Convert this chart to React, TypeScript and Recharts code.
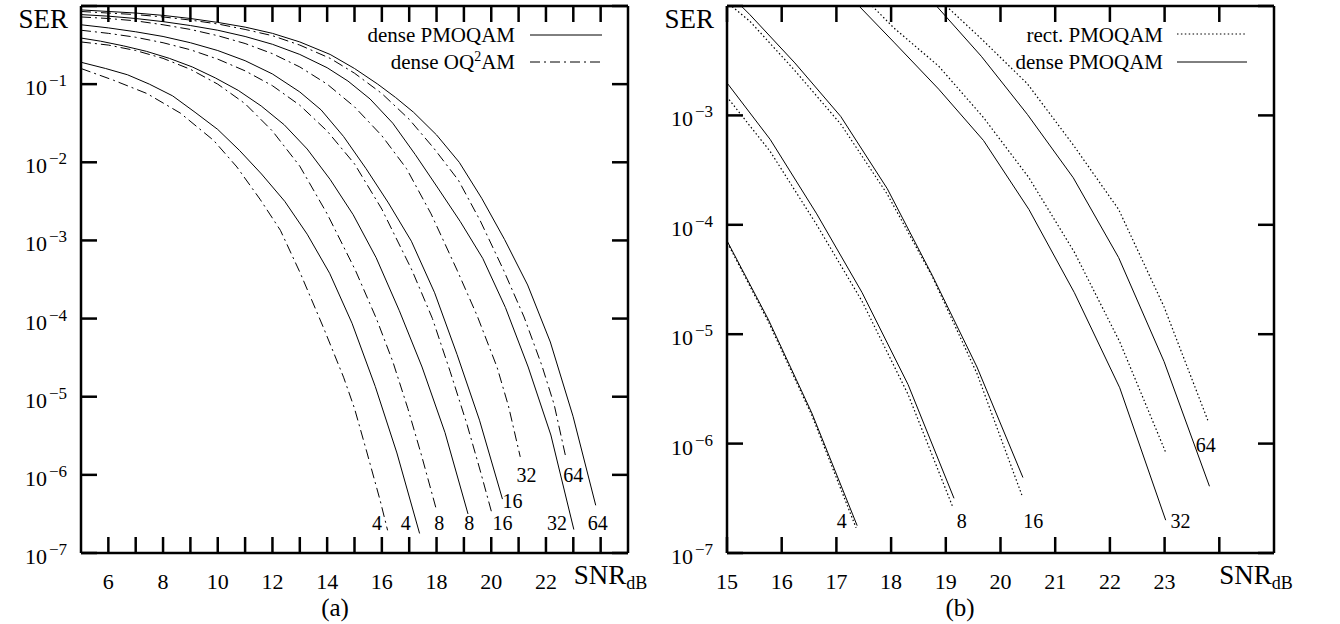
import React from "react";
import { LineChart, Line, XAxis, YAxis, ReferenceDot, Legend } from "recharts";

// SNR (dB) and log10(SER)

// dense PMOQAM (solid), drawn in both panels
const DPM4_SNR = [5, 5.9, 6.7, 7.5, 8.35, 9.17, 10.0, 10.8, 11.6, 12.45, 13.27, 14.09, 14.91, 15.76, 16.55, 17.38];
const DPM4_LOG = [-0.72, -0.8, -0.88, -1.0, -1.15, -1.36, -1.58, -1.85, -2.15, -2.5, -2.92, -3.42, -4.06, -4.87, -5.72, -6.75];
const DPM8_SNR = [5, 5.71, 6.55, 7.39, 8.23, 9.07, 9.91, 10.75, 11.59, 12.43, 13.27, 14.11, 14.95, 15.79, 16.64, 17.47, 18.31, 19.15];
const DPM8_LOG = [-0.41, -0.45, -0.51, -0.58, -0.67, -0.78, -0.92, -1.08, -1.28, -1.52, -1.83, -2.22, -2.67, -3.22, -3.9, -4.62, -5.46, -6.5];
const DPM16_SNR = [5, 6, 7, 8, 9, 10, 11, 12, 13, 13.78, 14.6, 15.42, 16.24, 17.08, 17.93, 18.75, 19.57, 20.41];
const DPM16_LOG = [-0.24, -0.28, -0.33, -0.39, -0.47, -0.57, -0.7, -0.87, -1.1, -1.33, -1.67, -2.08, -2.52, -3.01, -3.67, -4.46, -5.3, -6.31];
const DPM32_SNR = [5, 6, 7, 8, 9, 10, 11, 12, 13, 14, 14.76, 15.57, 16.4, 17.22, 18.05, 18.87, 19.69, 20.52, 21.35, 22.18, 23.02];
const DPM32_LOG = [-0.11, -0.13, -0.16, -0.2, -0.25, -0.31, -0.39, -0.49, -0.62, -0.79, -0.96, -1.19, -1.5, -1.9, -2.33, -2.76, -3.23, -3.86, -4.62, -5.49, -6.7];
const DPM64_SNR = [5, 6, 7, 8, 9, 10, 11, 12, 13, 14.11, 15.0, 15.85, 16.5, 17.16, 18.0, 18.83, 19.65, 20.49, 21.33, 22.16, 22.99, 23.82];
const DPM64_LOG = [-0.05, -0.07, -0.09, -0.12, -0.16, -0.21, -0.27, -0.35, -0.46, -0.62, -0.8, -1.0, -1.17, -1.36, -1.65, -2.0, -2.46, -2.99, -3.57, -4.3, -5.25, -6.39];

// dense OQ2AM (dash-dot), panel (a)
const DOQ4_SNR = [5, 6.19, 7.41, 8.63, 9.85, 10.7, 11.56, 12.29, 13.02, 13.87, 14.6, 15.0, 15.46, 15.94, 16.21];
const DOQ4_LOG = [-0.8, -0.95, -1.12, -1.37, -1.72, -2.06, -2.48, -2.87, -3.42, -4.12, -4.75, -5.15, -5.72, -6.33, -6.71];
const DOQ8_SNR = [5, 6, 7, 8, 9, 10, 11, 12, 13, 14, 15.03, 15.8, 16.4, 16.95, 17.45, 17.99];
const DOQ8_LOG = [-0.46, -0.5, -0.57, -0.67, -0.81, -1.0, -1.25, -1.6, -2.05, -2.66, -3.38, -4.0, -4.55, -5.15, -5.75, -6.44];
const DOQ16_SNR = [5, 6, 7, 8, 9, 10, 11, 12, 13, 14, 15, 16, 17.1, 17.85, 18.5, 19.11, 19.6, 20.03];
const DOQ16_LOG = [-0.31, -0.35, -0.4, -0.47, -0.56, -0.68, -0.83, -1.02, -1.27, -1.6, -2.02, -2.6, -3.38, -4.0, -4.68, -5.35, -5.95, -6.5];
const DOQ32_SNR = [5, 6, 7, 8, 9, 10, 11, 12, 13, 14, 15, 16, 16.9, 17.8, 18.75, 19.48, 20.21, 20.63, 21.06];
const DOQ32_LOG = [-0.14, -0.16, -0.19, -0.24, -0.3, -0.38, -0.48, -0.61, -0.78, -1.0, -1.29, -1.66, -2.08, -2.66, -3.38, -3.96, -4.62, -5.12, -5.77];
const DOQ64_SNR = [5, 6, 7, 8, 9, 10, 11, 12, 13, 14.11, 15.0, 16.0, 17.0, 17.9, 18.8, 19.6, 20.45, 21.2, 21.85, 22.3, 22.71];
const DOQ64_LOG = [-0.07, -0.09, -0.11, -0.14, -0.18, -0.23, -0.3, -0.38, -0.5, -0.67, -0.86, -1.12, -1.45, -1.82, -2.23, -2.75, -3.38, -3.98, -4.6, -5.1, -5.75];

// rect. PMOQAM (dotted), panel (b)
const RPM4_SNR = [14.91, 15.76, 16.55, 17.36];
const RPM4_LOG = [-4.07, -4.89, -5.74, -6.77];
const RPM8_SNR = [14.95, 15.79, 16.64, 17.47, 18.31, 19.12];
const RPM8_LOG = [-2.8, -3.33, -4.0, -4.7, -5.55, -6.57];
const RPM16_SNR = [14.6, 15.42, 16.24, 17.08, 17.93, 18.75, 19.57, 20.39];
const RPM16_LOG = [-1.8, -2.14, -2.59, -3.08, -3.72, -4.47, -5.36, -6.47];
const RPM32_SNR = [16.4, 17.22, 18.05, 18.87, 19.69, 20.52, 21.35, 22.18, 23.02];
const RPM32_LOG = [-1.42, -1.78, -2.2, -2.55, -3.02, -3.57, -4.25, -5.07, -6.08];
const RPM64_SNR = [18.2, 19.05, 19.65, 20.49, 21.33, 22.16, 22.99, 23.8];
const RPM64_LOG = [-1.65, -2.02, -2.3, -2.71, -3.27, -3.86, -4.75, -5.8];

// axes
const A_X_TICKS = [6, 7, 8, 9, 10, 11, 12, 13, 14, 15, 16, 17, 18, 19, 20, 21, 22, 23, 24];
const A_X_LABELS = [6, 8, 10, 12, 14, 16, 18, 20, 22];
const A_Y_EXP = [-7, -6, -5, -4, -3, -2, -1, 0];
const B_X_TICKS = [15, 16, 17, 18, 19, 20, 21, 22, 23, 24];
const B_X_LABELS = [15, 16, 17, 18, 19, 20, 21, 22, 23];
const B_Y_EXP = [-7, -6, -5, -4, -3, -2];

// constellation size tags: text, SNR, log10(SER) where they sit
const A_TAGS = [
  { text: "4", snr: 15.82, lg: -6.62 },
  { text: "4", snr: 16.87, lg: -6.62 },
  { text: "8", snr: 18.1, lg: -6.62 },
  { text: "8", snr: 19.2, lg: -6.62 },
  { text: "16", snr: 20.41, lg: -6.62 },
  { text: "32", snr: 22.4, lg: -6.62 },
  { text: "64", snr: 23.89, lg: -6.62 },
  { text: "16", snr: 20.78, lg: -6.33 },
  { text: "32", snr: 21.29, lg: -6.0 },
  { text: "64", snr: 23.0, lg: -6.0 },
];
const B_TAGS = [
  { text: "4", snr: 17.1, lg: -6.71 },
  { text: "8", snr: 19.29, lg: -6.71 },
  { text: "16", snr: 20.6, lg: -6.71 },
  { text: "32", snr: 23.29, lg: -6.71 },
  { text: "64", snr: 23.75, lg: -6.01 },
];

const SERIF = "'Liberation Serif', 'Times New Roman', serif";
const DASH_DOT = "10 4 2 4";
const DOTTED = "1.5 2.4";
const H = 624;
const AXIS = { stroke: "#000", strokeWidth: 2.5 };

const toPoints = (snr: number[], lg: number[]) =>
  snr.map((x, i) => ({ snr: x, ser: Math.pow(10, lg[i]) }));

const LeftTick = ({ x, y, payload, topExp }: any) => {
  const e = Math.round(Math.log10(payload.value));
  return (
    <g>
      <line x1={x} x2={x + 16} y1={y} y2={y} stroke="#000" strokeWidth={2.5} />
      {e === topExp ? (
        <text x={x - 13} y={y + 22} textAnchor="end" fontFamily={SERIF} fontSize={27} fill="#000">
          SER
        </text>
      ) : (
        <text x={x - 14} y={y + 11} textAnchor="end" fontFamily={SERIF} fill="#000">
          <tspan fontSize={22}>10</tspan>
          <tspan fontSize={17} dx={2} dy={-9}>
            {"\u2212" + -e}
          </tspan>
        </text>
      )}
    </g>
  );
};

const RightTick = ({ x, y }: any) => (
  <line x1={x} x2={x - 16} y1={y} y2={y} stroke="#000" strokeWidth={2.5} />
);

const TopTick = ({ x, y }: any) => (
  <line x1={x} x2={x} y1={y} y2={y + 16} stroke="#000" strokeWidth={2.5} />
);

const BottomTick = ({ x, y, payload, labels, shift }: any) => {
  const v = payload.value;
  return (
    <g>
      <line x1={x} x2={x} y1={y} y2={y - 16} stroke="#000" strokeWidth={2.5} />
      {v === 24 ? (
        <text x={x + shift} y={y + 31} fontFamily={SERIF} fill="#000">
          <tspan fontSize={27}>SNR</tspan>
          <tspan fontSize={18} dy={5}>dB</tspan>
        </text>
      ) : labels.includes(v) ? (
        <text x={x} y={y + 36} textAnchor="middle" fontFamily={SERIF} fontSize={22} fill="#000">
          {v}
        </text>
      ) : null}
    </g>
  );
};

interface Curve {
  key: string;
  snr: number[];
  lg: number[];
  dash?: string;
}

const SOLIDS: Curve[] = [
  { key: "dpm4", snr: DPM4_SNR, lg: DPM4_LOG },
  { key: "dpm8", snr: DPM8_SNR, lg: DPM8_LOG },
  { key: "dpm16", snr: DPM16_SNR, lg: DPM16_LOG },
  { key: "dpm32", snr: DPM32_SNR, lg: DPM32_LOG },
  { key: "dpm64", snr: DPM64_SNR, lg: DPM64_LOG },
];

const A_CURVES: Curve[] = [
  ...SOLIDS,
  { key: "doq4", snr: DOQ4_SNR, lg: DOQ4_LOG, dash: DASH_DOT },
  { key: "doq8", snr: DOQ8_SNR, lg: DOQ8_LOG, dash: DASH_DOT },
  { key: "doq16", snr: DOQ16_SNR, lg: DOQ16_LOG, dash: DASH_DOT },
  { key: "doq32", snr: DOQ32_SNR, lg: DOQ32_LOG, dash: DASH_DOT },
  { key: "doq64", snr: DOQ64_SNR, lg: DOQ64_LOG, dash: DASH_DOT },
];

const B_CURVES: Curve[] = [
  ...SOLIDS,
  { key: "rpm4", snr: RPM4_SNR, lg: RPM4_LOG, dash: DOTTED },
  { key: "rpm8", snr: RPM8_SNR, lg: RPM8_LOG, dash: DOTTED },
  { key: "rpm16", snr: RPM16_SNR, lg: RPM16_LOG, dash: DOTTED },
  { key: "rpm32", snr: RPM32_SNR, lg: RPM32_LOG, dash: DOTTED },
  { key: "rpm64", snr: RPM64_SNR, lg: RPM64_LOG, dash: DOTTED },
];

const legendA = (
  <svg width={660} height={80}>
    <text x={515} y={42} textAnchor="end" fontFamily={SERIF} fontSize={21} fill="#000">
      dense PMOQAM
    </text>
    <line x1={530} x2={602} y1={35} y2={35} stroke="#000" strokeWidth={1} />
    <text x={515} y={69} textAnchor="end" fontFamily={SERIF} fontSize={21} fill="#000">
      dense OQ
      <tspan fontSize={14} dy={-8}>2</tspan>
      <tspan dy={8}>AM</tspan>
    </text>
    <line x1={530} x2={602} y1={62} y2={62} stroke="#000" strokeWidth={1} strokeDasharray={DASH_DOT} />
  </svg>
);

const legendB = (
  <svg width={680} height={80}>
    <text x={503} y={42} textAnchor="end" fontFamily={SERIF} fontSize={21} fill="#000">
      rect. PMOQAM
    </text>
    <line x1={517} x2={587} y1={34} y2={34} stroke="#000" strokeWidth={1.2} strokeDasharray={DOTTED} />
    <text x={503} y={69} textAnchor="end" fontFamily={SERIF} fontSize={21} fill="#000">
      dense PMOQAM
    </text>
    <line x1={517} x2={587} y1={62} y2={62} stroke="#000" strokeWidth={1} />
  </svg>
);

const Panel = ({
  left,
  width,
  yWidth,
  marginRight,
  xDomain,
  xTicks,
  xLabels,
  snrShift,
  yExps,
  curves,
  tags,
  legend,
}: any) => {
  const yTicks = yExps.map((e: number) => Math.pow(10, e));
  const yDomain = [yTicks[0], yTicks[yTicks.length - 1]];
  const topExp = yExps[yExps.length - 1];
  return (
    <div style={{ position: "absolute", left, top: 0 }}>
      <LineChart width={width} height={H} margin={{ top: 5, right: marginRight - 1, bottom: 0, left: 0 }}>
        <XAxis
          xAxisId="b"
          dataKey="snr"
          type="number"
          domain={xDomain}
          ticks={xTicks}
          interval={0}
          allowDataOverflow
          height={71}
          tickSize={0}
          tickMargin={0}
          tickLine={false}
          axisLine={AXIS}
          tick={(p: any) => <BottomTick {...p} labels={xLabels} shift={snrShift} />}
        />
        <XAxis
          xAxisId="t"
          orientation="top"
          dataKey="snr"
          type="number"
          domain={xDomain}
          ticks={xTicks}
          interval={0}
          allowDataOverflow
          height={1}
          tickSize={0}
          tickMargin={0}
          tickLine={false}
          axisLine={AXIS}
          tick={(p: any) => <TopTick {...p} />}
        />
        <YAxis
          yAxisId="l"
          type="number"
          scale="log"
          domain={yDomain}
          ticks={yTicks}
          interval={0}
          allowDataOverflow
          width={yWidth}
          tickSize={0}
          tickMargin={0}
          tickLine={false}
          axisLine={AXIS}
          tick={(p: any) => <LeftTick {...p} topExp={topExp} />}
        />
        <YAxis
          yAxisId="r"
          orientation="right"
          type="number"
          scale="log"
          domain={yDomain}
          ticks={yTicks}
          interval={0}
          allowDataOverflow
          width={1}
          tickSize={0}
          tickMargin={0}
          tickLine={false}
          axisLine={AXIS}
          tick={(p: any) => <RightTick {...p} />}
        />
        {curves.map((c: Curve) => (
          <Line
            key={c.key}
            xAxisId="b"
            yAxisId="l"
            data={toPoints(c.snr, c.lg)}
            dataKey="ser"
            type="linear"
            stroke="#000"
            strokeWidth={c.dash === DOTTED ? 1.2 : 1}
            strokeDasharray={c.dash}
            dot={false}
            activeDot={false}
            isAnimationActive={false}
          />
        ))}
        {tags.map((t: any, i: number) => (
          <ReferenceDot
            key={i}
            xAxisId="b"
            yAxisId="l"
            x={t.snr}
            y={Math.pow(10, t.lg)}
            r={0}
            fill="none"
            stroke="none"
            label={{ value: t.text, position: "center", fontSize: 20, fontFamily: SERIF, fill: "#000" }}
          />
        ))}
        <Legend
          layout="vertical"
          align="center"
          verticalAlign="middle"
          wrapperStyle={{ left: 0, top: 0, width, height: 80 }}
          content={() => legend}
        />
      </LineChart>
    </div>
  );
};

export default function App() {
  return (
    <div style={{ position: "absolute", left: 0, top: 0, width: 1340, height: H, background: "#fff" }}>
      <Panel
        left={0}
        width={660}
        yWidth={81}
        marginRight={32}
        xDomain={[5, 25]}
        xTicks={A_X_TICKS}
        xLabels={A_X_LABELS}
        snrShift={-27}
        yExps={A_Y_EXP}
        curves={A_CURVES}
        tags={A_TAGS}
        legend={legendA}
      />
      <Panel
        left={660}
        width={680}
        yWidth={67}
        marginRight={66}
        xDomain={[15, 25]}
        xTicks={B_X_TICKS}
        xLabels={B_X_LABELS}
        snrShift={0}
        yExps={B_Y_EXP}
        curves={B_CURVES}
        tags={B_TAGS}
        legend={legendB}
      />
      <svg width={1340} height={H} style={{ position: "absolute", left: 0, top: 0, pointerEvents: "none" }}>
        <text x={335} y={616} textAnchor="middle" fontFamily={SERIF} fontSize={25} fill="#000">
          (a)
        </text>
        <text x={960} y={616} textAnchor="middle" fontFamily={SERIF} fontSize={25} fill="#000">
          (b)
        </text>
      </svg>
    </div>
  );
}
